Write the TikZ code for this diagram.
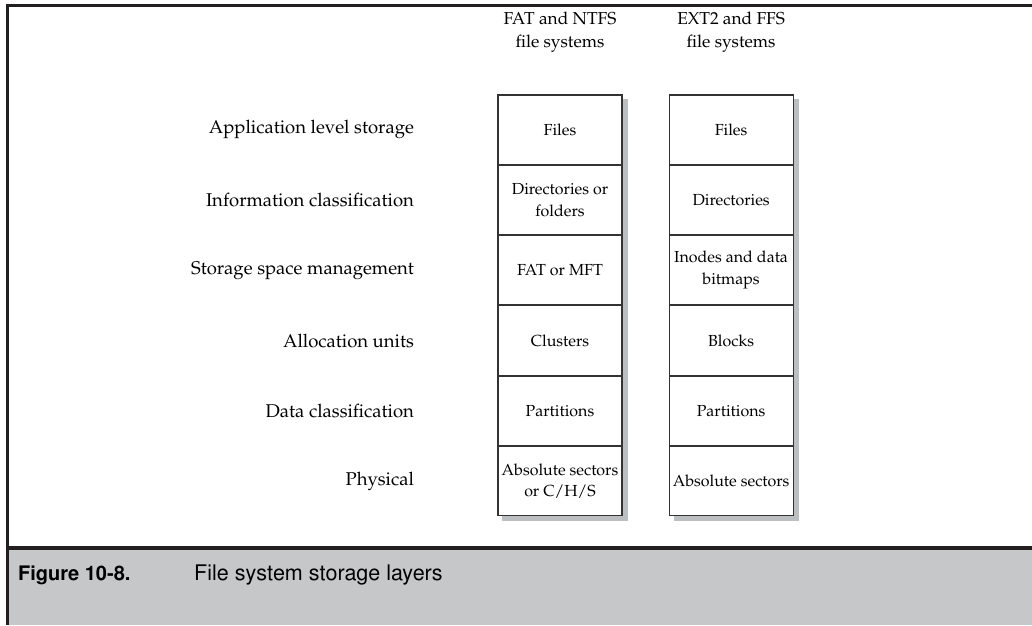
\documentclass[tikz,border=0pt]{standalone}
\usepackage[T1]{fontenc}
\renewcommand{\rmdefault}{ppl}
\renewcommand{\sfdefault}{phv}
\usepackage{tikz}
\usetikzlibrary{positioning,calc,backgrounds}
\definecolor{framegray}{HTML}{231F20}
\definecolor{bandgray}{HTML}{C6C7C9}
\definecolor{shadowgray}{HTML}{BDBEC0}

\begin{document}
\begin{tikzpicture}[x=1pt,y=-1pt,node distance=0pt and 46pt,
  cell/.style={draw=black!80,line width=1.1pt,fill=white,align=center,minimum width=124pt,minimum height=69.2pt,inner sep=1pt,font=\fontsize{16}{21.5}\selectfont},
  layer/.style={anchor=east,font=\fontsize{18.5}{20}\selectfont},
  head/.style={align=center,font=\fontsize{17.3}{23}\selectfont}]
\useasboundingbox (0,0) rectangle (1032,625);
% caption band and frame
\fill[bandgray] (7,550) rectangle (1032,625);
\draw[framegray,line width=3pt] (1032,5) -- (7,5) -- (7,625);
\draw[framegray,line width=4pt] (7,548) -- (1032,548);
% FAT / NTFS stack
\node[cell] (f1) at (560,129.6) {Files};
\node[cell, below=of f1] (f2) {Directories or\\folders};
\node[cell, below=of f2] (f3) {FAT or MFT};
\node[cell, below=of f3] (f4) {Clusters};
\node[cell, below=of f4] (f5) {Partitions};
\node[cell, below=of f5] (f6) {Absolute sectors\\or C/H/S};
% EXT2 / FFS stack
\node[cell, right=of f1] (e1) {Files};
\node[cell, right=of f2] (e2) {Directories};
\node[cell, right=of f3] (e3) {Inodes and data\\bitmaps};
\node[cell, right=of f4] (e4) {Blocks};
\node[cell, right=of f5] (e5) {Partitions};
\node[cell, right=of f6] (e6) {Absolute sectors};
\begin{scope}[on background layer]
\fill[shadowgray] ($(f1.north west)+(5,5)$) rectangle ($(f6.south east)+(5,5)$);
\fill[shadowgray] ($(e1.north west)+(5,5)$) rectangle ($(e6.south east)+(5,5)$);
\end{scope}
\node[head, above=39pt of f1] (fhead) {FAT and NTFS\\file systems};
\node[head, above=39pt of e1] (ehead) {EXT2 and FFS\\file systems};
% layer names
\node[layer, left=80pt of f1] (l1) {Application level storage};
\node[layer, left=80pt of f2] (l2) {Information classification};
\node[layer, left=80pt of f3] (l3) {Storage space management};
\node[layer, left=80pt of f4] (l4) {Allocation units};
\node[layer, left=80pt of f5] (l5) {Data classification};
\node[layer, left=80pt of f6] (l6) {Physical};
% caption
\node[anchor=base west,inner sep=0pt,font=\sffamily\bfseries\fontsize{20}{24}\selectfont] (fignum) at (18,580) {Figure 10-8.};
\node[anchor=base west,inner sep=0pt,font=\sffamily\fontsize{21.5}{24}\selectfont] (figtext) at (194,580) {File system storage layers};
\end{tikzpicture}
\end{document}
